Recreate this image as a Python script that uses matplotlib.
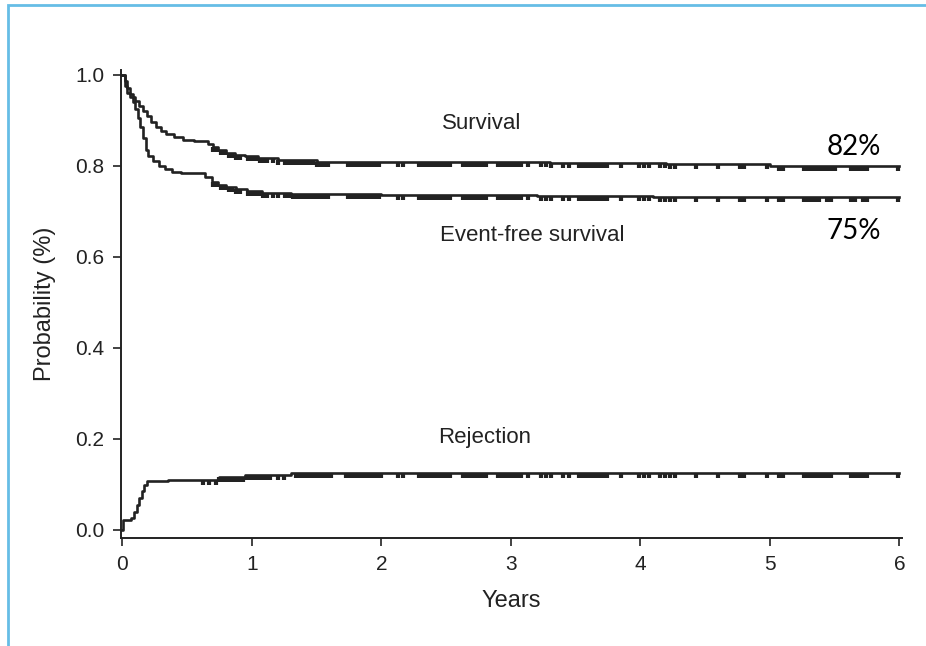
import numpy as np
import matplotlib
matplotlib.use("Agg")
from matplotlib import pyplot as plt
from matplotlib.path import Path
from matplotlib.patches import Rectangle

plt.rcParams['font.family'] = ['Liberation Sans', 'DejaVu Sans']

########################## DATA
# Kaplan-Meier step curves: time of each step (years) and value after it
surv_t = [0, 0.02, 0.04, 0.06, 0.08, 0.10, 0.13, 0.16, 0.19, 0.22, 0.26, 0.30, 0.34, 0.40,
          0.47, 0.55, 0.66, 0.70, 0.74, 0.80, 0.87, 0.95, 1.05, 1.20, 1.50, 2.20, 3.30, 4.20,
          5.00, 6.00]
surv_v = [1.0, 0.985, 0.97, 0.958, 0.95, 0.942, 0.932, 0.92, 0.908, 0.895, 0.885, 0.875,
          0.869, 0.862, 0.857, 0.854, 0.848, 0.84, 0.834, 0.828, 0.824, 0.82, 0.816, 0.812,
          0.809, 0.807, 0.805, 0.803, 0.80, 0.80]

efs_t = [0, 0.02, 0.04, 0.06, 0.08, 0.10, 0.12, 0.14, 0.16, 0.18, 0.20, 0.24, 0.28, 0.33,
         0.38, 0.45, 0.64, 0.69, 0.74, 0.80, 0.88, 0.96, 1.08, 1.30, 2.00, 3.20, 4.10, 6.00]
efs_v = [1.0, 0.975, 0.96, 0.95, 0.94, 0.925, 0.905, 0.885, 0.86, 0.835, 0.822, 0.81, 0.80,
         0.792, 0.786, 0.783, 0.775, 0.765, 0.758, 0.752, 0.748, 0.744, 0.740, 0.737, 0.735,
         0.733, 0.730, 0.730]

rej_t = [0, 0.005, 0.07, 0.09, 0.11, 0.13, 0.15, 0.17, 0.19, 0.35, 0.75, 0.95, 1.30, 6.00]
rej_v = [0.0, 0.022, 0.025, 0.04, 0.055, 0.07, 0.085, 0.098, 0.108, 0.11, 0.115, 0.12,
         0.125, 0.125]

# censoring ticks (years)
surv_cens = [0.70, 0.73, 0.76, 0.79, 0.82, 0.85, 0.88, 0.91, 0.97, 1.00, 1.03, 1.06, 1.09,
             1.12, 1.16, 1.20, 1.26, 1.29, 1.32, 1.35, 1.38, 1.41, 1.44, 1.47, 1.50, 1.53,
             1.56, 1.59, 1.74, 1.77, 1.80, 1.83, 1.86, 1.89, 1.92, 1.95, 1.98, 2.13, 2.17,
             2.29, 2.32, 2.35, 2.38, 2.41, 2.44, 2.47, 2.50, 2.53, 2.63, 2.66, 2.69, 2.72,
             2.75, 2.78, 2.81, 2.90, 2.93, 2.96, 2.99, 3.02, 3.05, 3.08, 3.13, 3.23, 3.27,
             3.31, 3.40, 3.45, 3.53, 3.56, 3.59, 3.62, 3.65, 3.68, 3.71, 3.74, 3.85, 3.99,
             4.03, 4.07, 4.15, 4.19, 4.23, 4.27, 4.43, 4.60, 4.77, 4.80, 4.98, 5.07, 5.10,
             5.26, 5.29, 5.32, 5.35, 5.38, 5.41, 5.44, 5.47, 5.50, 5.63, 5.66, 5.69, 5.72,
             5.75, 5.99]
efs_cens = [0.70, 0.73, 0.76, 0.79, 0.82, 0.85, 0.88, 0.91, 0.97, 1.00, 1.03, 1.06, 1.09,
            1.12, 1.16, 1.20, 1.26, 1.29, 1.32, 1.35, 1.38, 1.41, 1.44, 1.47, 1.50, 1.53,
            1.56, 1.59, 1.74, 1.77, 1.80, 1.83, 1.86, 1.89, 1.92, 1.95, 1.98, 2.13, 2.17,
            2.29, 2.32, 2.35, 2.38, 2.41, 2.44, 2.47, 2.50, 2.53, 2.63, 2.66, 2.69, 2.72,
            2.75, 2.78, 2.81, 2.90, 2.93, 2.96, 2.99, 3.02, 3.05, 3.08, 3.13, 3.23, 3.27,
            3.31, 3.40, 3.45, 3.53, 3.56, 3.59, 3.62, 3.65, 3.68, 3.71, 3.74, 3.85, 3.99,
            4.03, 4.07, 4.15, 4.19, 4.23, 4.27, 4.43, 4.60, 4.77, 4.80, 4.98, 5.07, 5.10,
            5.26, 5.29, 5.32, 5.35, 5.38, 5.44, 5.47, 5.63, 5.66, 5.72, 5.75, 5.99]
rej_cens = [0.62, 0.67, 0.72, 0.75, 0.78, 0.81, 0.84, 0.87, 0.90, 0.93, 0.96, 0.99, 1.02,
            1.05, 1.08, 1.11, 1.14, 1.20, 1.25, 1.34, 1.37, 1.40, 1.43, 1.46, 1.49, 1.52,
            1.55, 1.58, 1.61, 1.73, 1.76, 1.79, 1.82, 1.85, 1.88, 1.91, 1.94, 1.97, 2.00,
            2.13, 2.17, 2.29, 2.32, 2.35, 2.38, 2.41, 2.44, 2.47, 2.50, 2.53, 2.63, 2.66,
            2.69, 2.72, 2.75, 2.78, 2.81, 2.90, 2.93, 2.96, 2.99, 3.02, 3.05, 3.08, 3.13,
            3.23, 3.27, 3.31, 3.40, 3.45, 3.53, 3.56, 3.59, 3.62, 3.65, 3.68, 3.71, 3.74,
            3.85, 3.99, 4.03, 4.07, 4.15, 4.19, 4.23, 4.27, 4.43, 4.60, 4.77, 4.80, 4.98,
            5.07, 5.10, 5.26, 5.29, 5.32, 5.35, 5.38, 5.41, 5.44, 5.47, 5.63, 5.66, 5.69,
            5.72, 5.75, 5.99]

x_ticks = [0, 1, 2, 3, 4, 5, 6]
y_ticks = [0.0, 0.2, 0.4, 0.6, 0.8, 1.0]


########################## PLOT
ink = '#222222'
# tick hanging down from the curve (censored patient)
cens_marker = Path([(0, 0), (0, -1)])

fig = plt.figure(figsize=(9.26, 6.46), dpi=100)
ax = fig.add_axes([121/926, 1 - 538/646, (902 - 121)/926, (538 - 70)/646])

for t, v, cens in [(surv_t, surv_v, surv_cens), (efs_t, efs_v, efs_cens), (rej_t, rej_v, rej_cens)]:
    ax.plot(t, v, drawstyle='steps-post', color=ink, lw=1.9)
    # value of the step curve at each censor time
    idx = np.searchsorted(t, cens, side='right') - 1
    cv = np.array(v)[idx]
    ax.plot(cens, cv, linestyle='none', marker=cens_marker, markersize=6.5,
            markeredgewidth=3.0, color=ink)

ax.text(2.47, 0.892, 'Survival', fontsize=16, va='center', ha='left', color=ink)
ax.text(2.45, 0.646, 'Event-free survival', fontsize=16, va='center', ha='left', color=ink)
ax.text(2.44, 0.202, 'Rejection', fontsize=16, va='center', ha='left', color=ink)
ax.text(5.65, 0.84, '82%', fontsize=20, family='Lato', ha='center', va='center', color='black')
ax.text(5.65, 0.656, '75%', fontsize=20, family='Lato', ha='center', va='center', color='black')

ax.set_xlim(-0.01, 6.02)
ax.set_ylim(-0.018, 1.01)
ax.set_xticks(x_ticks)
ax.set_xticklabels([str(x) for x in x_ticks])
ax.set_yticks(y_ticks)
ax.set_yticklabels(['%.1f' % y for y in y_ticks])
ax.tick_params(labelsize=15, colors=ink, length=6, width=1.2, direction='out', pad=6)
for s in ['top', 'right']:
    ax.spines[s].set_visible(False)
for s in ['left', 'bottom']:
    ax.spines[s].set_color(ink)
    ax.spines[s].set_linewidth(1.4)
ax.set_xlabel('Years', fontsize=17, color=ink, labelpad=12)
ax.set_ylabel('Probability (%)', fontsize=17, color=ink, labelpad=14)

# light blue frame of the source slide
fig.add_artist(Rectangle((8/926, -0.2), 1.2, 1.2 - 5/646, transform=fig.transFigure,
                         fill=False, edgecolor='#66bde6', lw=2, clip_on=False))

plt.savefig('out.png', dpi=100)
plt.close()
